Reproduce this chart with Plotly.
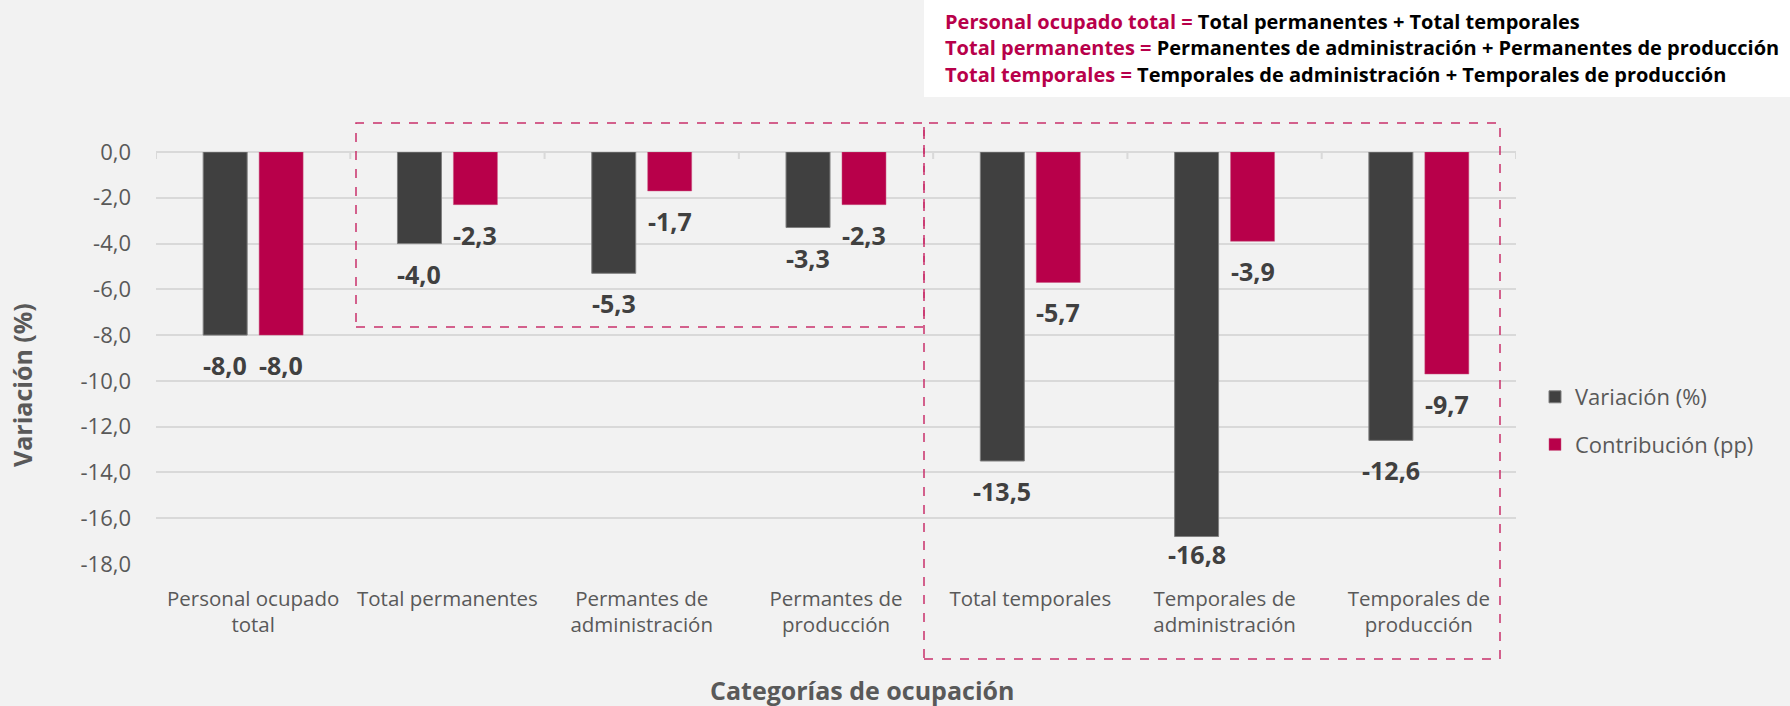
import plotly.graph_objects as go

categories = [
    "Personal ocupado<br>total",
    "Total permanentes",
    "Permantes de<br>administración",
    "Permantes de<br>producción",
    "Total temporales",
    "Temporales de<br>administración",
    "Temporales de<br>producción",
]
variacion = [-8.0, -4.0, -5.3, -3.3, -13.5, -16.8, -12.6]
contribucion = [-8.0, -2.3, -1.7, -2.3, -5.7, -3.9, -9.7]
series_names = ["Variación (%)", "Contribución (pp)"]
y_ticks = [0, -2, -4, -6, -8, -10, -12, -14, -16, -18]
y_tick_text = ["0,0", "-2,0", "-4,0", "-6,0", "-8,0", "-10,0", "-12,0", "-14,0", "-16,0", "-18,0"]
header_lines = [
    ("Personal ocupado total =", "Total permanentes + Total temporales"),
    ("Total permanentes =", "Permanentes de administración + Permanentes de producción"),
    ("Total temporales =", "Temporales de administración + Temporales de producción"),
]

W, H = 1790, 706
L, R, T, B = 156, 1516, 152, 564
Y_MIN, Y_MAX = -18, 0
DARK = "#404040"
PINK = "#B8004A"
GRAY = "#595959"
DASH = "#C9306B"
FONT = "Open Sans"
PX_PER_UNIT = (B - T) / (Y_MAX - Y_MIN)


def px(xp):
    return (xp - L) / (R - L)


def py(yp):
    return (B - yp) / (B - T)


def fmt(v):
    return f"{v:.1f}".replace(".", ",")


def label_shift(v):
    # label sits ~30px below the bar end, but is kept inside the plot area
    end_px = T + (Y_MAX - v) * PX_PER_UNIT
    return -min(30, (B - 10) - end_px)


fig = go.Figure()
fig.add_trace(go.Bar(
    x=categories, y=variacion, name=series_names[0], legendgroup="g0",
    marker=dict(color=DARK, line=dict(color="#7F7F7F", width=1)),
    hoverinfo="skip",
))
fig.add_trace(go.Bar(
    x=categories, y=contribucion, name=series_names[1], legendgroup="g1",
    marker=dict(color=PINK, line=dict(color="#C9557F", width=0.5)),
    hoverinfo="skip",
))

annotations = []
for i, c in enumerate(categories):
    for vals, xs in ((variacion, -28), (contribucion, 28)):
        annotations.append(dict(x=c, y=vals[i], xref="x", yref="y", text=f"<b>{fmt(vals[i])}</b>",
                                showarrow=False, xshift=xs, yshift=label_shift(vals[i]), yanchor="middle",
                                font=dict(family=FONT, size=25, color=DARK)))

# axis titles
annotations.append(dict(x=px(22), y=py(385), xref="paper", yref="paper", text="<b>Variación (%)</b>",
                        textangle=-90, showarrow=False, xanchor="center", yanchor="middle",
                        font=dict(family=FONT, size=25, color=GRAY)))
annotations.append(dict(x=px(862), y=py(690), xref="paper", yref="paper", text="<b>Categorías de ocupación</b>",
                        showarrow=False, xanchor="center", yanchor="middle",
                        font=dict(family=FONT, size=25, color=GRAY)))

# header text
for k, (a, b) in enumerate(header_lines):
    annotations.append(dict(x=px(943), y=py(22 + 26 * k), xref="paper", yref="paper",
                            text=f"<b><span style='color:{PINK}'>{a}</span> {b}</b>",
                            showarrow=False, xanchor="left", yanchor="middle",
                            font=dict(family=FONT, size=20, color="#000000")))

shapes = [
    dict(type="rect", xref="paper", yref="paper", x0=px(924), x1=px(W + 5), y0=py(97), y1=py(-5),
         fillcolor="#FFFFFF", line=dict(width=0), layer="below"),
    dict(type="rect", xref="paper", yref="paper", x0=px(356), x1=px(924), y0=py(327), y1=py(123),
         line=dict(color=DASH, width=1.5, dash="dash")),
    dict(type="rect", xref="paper", yref="paper", x0=px(924), x1=px(1500), y0=py(659), y1=py(123),
         line=dict(color=DASH, width=1.5, dash="dash")),
]
for i in range(len(categories) + 1):
    shapes.append(dict(type="line", xref="x", yref="paper", x0=i - 0.5, x1=i - 0.5, y0=1, y1=1 - 7 / (B - T),
                       line=dict(color="#D9D9D9", width=2)))

fig.update_layout(
    width=W, height=H,
    margin=dict(l=L, r=W - R, t=T, b=H - B, pad=0),
    paper_bgcolor="#F2F2F2", plot_bgcolor="#F2F2F2",
    barmode="group", bargap=0.424, bargroupgap=0.214,
    font=dict(family=FONT, color=GRAY),
    showlegend=True,
    legend=dict(x=px(1535), y=py(376), xanchor="left", yanchor="top",
                font=dict(family=FONT, size=22, color=GRAY), bgcolor="rgba(0,0,0,0)",
                traceorder="grouped", tracegroupgap=16, itemclick=False),
    annotations=annotations,
    shapes=shapes,
)
fig.update_xaxes(
    type="category", range=[-0.5, len(categories) - 0.5],
    showgrid=False, showline=False, zeroline=False,
    ticks="", tickfont=dict(family=FONT, size=20.5, color=GRAY),
    ticklabelstandoff=20,
)
fig.update_yaxes(
    range=[Y_MIN, Y_MAX], tickvals=y_ticks, ticktext=y_tick_text,
    showgrid=True, gridcolor="#D9D9D9", gridwidth=1.5,
    zeroline=True, zerolinecolor="#D9D9D9", zerolinewidth=2,
    showline=False, ticks="", ticklabelstandoff=24,
    tickfont=dict(family=FONT, size=22, color=GRAY),
)

fig.write_html(
    "out.html",
    config={"displayModeBar": False},
    post_script="document.body.style.margin='0';document.body.style.padding='0';",
)
